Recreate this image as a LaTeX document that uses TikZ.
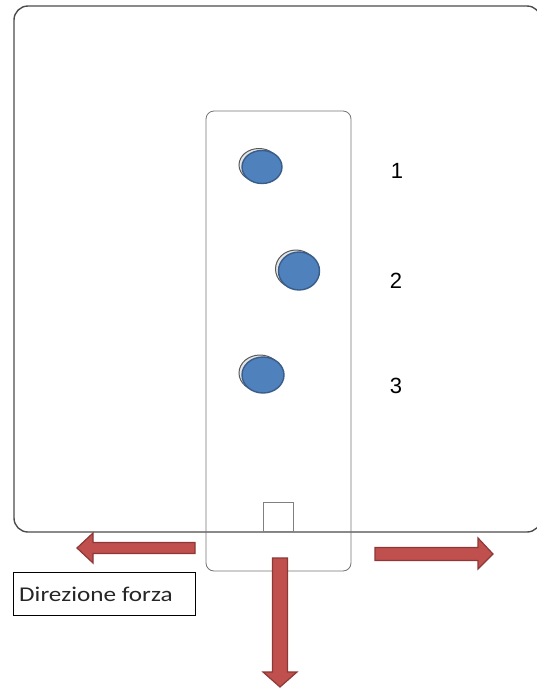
\documentclass[tikz,border=0pt]{standalone}
\usepackage{fontspec}
\setmainfont{Liberation Sans}
\newfontfamily\calib{Carlito}
\definecolor{arrfill}{RGB}{192,80,77}
\definecolor{arrdraw}{RGB}{140,56,54}
\definecolor{boltfill}{RGB}{79,129,189}
\definecolor{boltdraw}{RGB}{56,93,138}
\begin{document}
\begin{tikzpicture}[x=1pt,y=-1pt,
  frame/.style={draw=black!70,line width=1.4pt,rounded corners=14pt},
  panel/.style={draw=black!55,line width=0.8pt,rounded corners=8pt},
  num/.style={font=\fontsize{22}{22}\selectfont},
  bigarrow/.style={draw=arrdraw,fill=arrfill,line width=1.2pt}]
\useasboundingbox (0,0) rectangle (537,689);
\begin{scope}
\clip (0,0) rectangle (537,689);
\draw[frame] (14,6) rectangle (541,532);
\end{scope}
\draw[panel] (206,111) rectangle (351,571);
\node[draw=black!50,line width=0.8pt,minimum width=30pt,minimum height=29pt,inner sep=0pt] (sq) at (278,517) {};
% bolts
\foreach \n/\cx/\cy/\rx/\ry in {b1/262/167/20/16.5, b2/299/271/20.5/19, b3/263/375/21/18}{
  \draw[draw=black!65,fill=gray!20,line width=1pt] (\cx-3,\cy-2) ellipse ({\rx} and {\ry});
  \draw[draw=boltdraw,fill=boltfill,line width=1.4pt] (\cx,\cy) ellipse ({\rx} and {\ry});
  \coordinate (\n) at (\cx,\cy);
}
\node[num] (n1) at (397,171) {1};
\node[num] (n2) at (396,281) {2};
\node[num] (n3) at (396,386) {3};
% arrows
\draw[bigarrow] (195,542.5) -- (93,542.5) -- (93,533) -- (77,548) -- (93,563) -- (93,553.5) -- (195,553.5) -- cycle;
\draw[bigarrow] (375,547.5) -- (478,547.5) -- (478,538) -- (493,554) -- (478,569) -- (478,560.5) -- (375,560.5) -- cycle;
\draw[bigarrow] (272.5,558) -- (272.5,672) -- (263,672) -- (280,687) -- (297,672) -- (287.5,672) -- (287.5,558) -- cycle;
\node[draw=black,line width=0.8pt,minimum width=182pt,minimum height=43pt,inner sep=0pt] (lab) at (104,593.5) {};
\node[anchor=west,inner sep=0pt,xscale=1.2,font=\calib\fontsize{21}{21}\selectfont,text=black!85] (labtxt) at (19,594) {Direzione forza};
\end{tikzpicture}
\end{document}
